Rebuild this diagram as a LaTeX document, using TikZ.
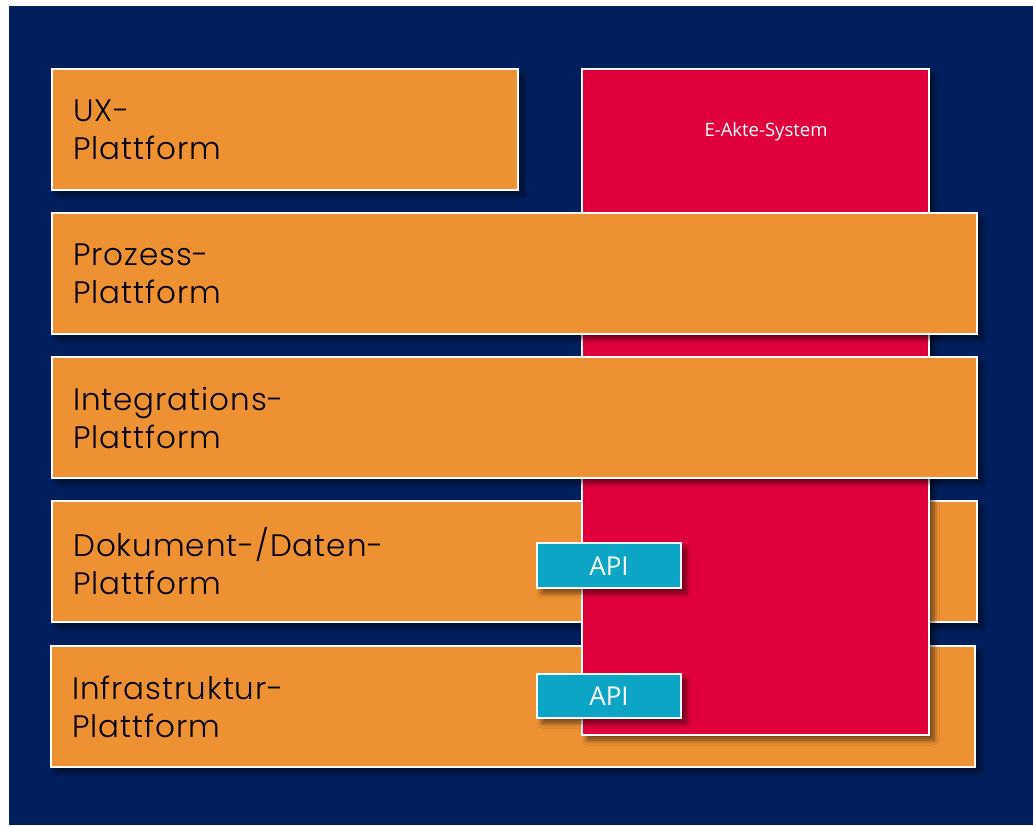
\documentclass[tikz,border=0pt]{standalone}
\usepackage{fontspec}
\setmainfont{Poppins}[UprightFont=* Light, LetterSpace=3]
\newfontfamily\uifont{Open Sans}
\usetikzlibrary{shadows.blur}
\definecolor{navy}{HTML}{001F5C}
\definecolor{plorange}{HTML}{EE9133}
\definecolor{akred}{HTML}{E0003B}
\definecolor{apiteal}{HTML}{0DA5C5}
\tikzset{
  shd/.style={blur shadow={shadow xshift=5pt, shadow yshift=-5pt, shadow blur steps=8, shadow blur radius=5pt, shadow opacity=55}},
  layer/.style={draw=white, line width=2.5pt, fill=plorange, shd},
  lbl/.style={anchor=west, align=left, font=\fontsize{31}{38}\selectfont, text=black, inner sep=0pt},
  redbox/.style={draw=white, line width=2.5pt, fill=akred, shd},
  apibox/.style={draw=white, line width=2.5pt, fill=apiteal, shd},
}
\begin{document}
\begin{tikzpicture}[x=1pt,y=-1pt]
\useasboundingbox (0,0) rectangle (1033,825);
\fill[white] (0,0) rectangle (1033,825);
\fill[navy] (9,6) rectangle (1033,825);
% bottom layers (behind E-Akte)
\path[layer] (52,501) rectangle (977,622);
\node[lbl] (tdok) at (73,561.5) {Dokument-/Daten-\\Plattform};
\path[layer] (51,646) rectangle (975,767);
\node[lbl] (tinf) at (72,706.5) {Infrastruktur-\\Plattform};
% E-Akte system
\path[redbox] (582,69) rectangle (929,735);
\node[text=white, font=\uifont\fontsize{18.5}{22}\selectfont] (eakte) at (766,132) {E-Akte-System};
% top layers
\path[layer] (52,69) rectangle (518,190);
\node[lbl] (tux) at (73,129.5) {UX-\\Plattform};
\path[layer] (52,213) rectangle (977,334);
\node[lbl] (tpro) at (73,273.5) {Prozess-\\Plattform};
\path[layer] (52,357) rectangle (977,478);
\node[lbl] (tint) at (73,417.5) {Integrations-\\Plattform};
% APIs
\path[apibox] (537,543) rectangle (681,588);
\node[text=white, font=\uifont\fontsize{26}{30}\selectfont] (api1) at (609,566) {API};
\path[apibox] (537,674) rectangle (681,718);
\node[text=white, font=\uifont\fontsize{26}{30}\selectfont] (api2) at (609,696) {API};
\end{tikzpicture}
\end{document}
